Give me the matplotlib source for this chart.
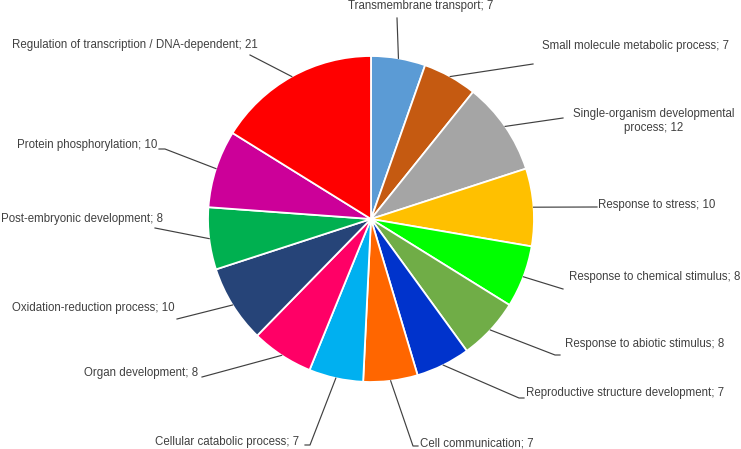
import numpy as np
import matplotlib.pyplot as plt

# -----------------------
# Data
# -----------------------
categories = [
    "Transmembrane transport",
    "Small molecule metabolic process",
    "Single-organism developmental\nprocess",
    "Response to stress",
    "Response to chemical stimulus",
    "Response to abiotic stimulus",
    "Reproductive structure development",
    "Cell communication",
    "Cellular catabolic process",
    "Organ development",
    "Oxidation-reduction process",
    "Post-embryonic development",
    "Protein phosphorylation",
    "Regulation of transcription / DNA-dependent",
]
counts = [7, 7, 12, 10, 8, 8, 7, 7, 7, 8, 10, 8, 10, 21]
colors = ["#5B9BD5", "#C55A11", "#A5A5A5", "#FFC000", "#00FF00", "#70AD47",
          "#0033CC", "#FF6600", "#00B0F0", "#FF0066", "#264478", "#00B050",
          "#CC0099", "#FF0000"]

# -----------------------
# Layout (pixels, y measured from top)
# text x, text y, ha, leader points after the wedge edge
# -----------------------
W, H = 741, 449
cx, cy, R = 371, 219, 163
label_layout = [
    (421, 6, "center", [(397, 18)]),
    (542, 46, "left", [(533, 64)]),
    (654, 121, "center", [(563, 118)]),
    (598, 205, "left", [(597, 207)]),
    (569, 277, "left", [(563, 289)]),
    (565, 344, "left", [(555, 355), (560, 355)]),
    (526, 393, "left", [(519, 398), (524, 398)]),
    (420, 443, "left", [(413, 446), (418, 446)]),
    (299, 442, "right", [(310, 445), (305, 445)]),
    (198, 373, "right", [(202, 377)]),
    (175, 308, "right", [(177, 319)]),
    (163, 219, "right", [(155, 228)]),
    (157, 145, "right", [(165, 149), (159, 149)]),
    (258, 45, "right", [(250, 55)]),
]

fig = plt.figure(figsize=(W / 100, H / 100), dpi=100)
ax = fig.add_axes([0, 0, 1, 1])

ax.pie(counts, colors=colors, startangle=90, counterclock=False,
       center=(cx, H - cy), radius=R, frame=True,
       wedgeprops=dict(edgecolor="white", linewidth=1.3))
ax.set_xlim(0, W)
ax.set_ylim(0, H)
ax.set_aspect("equal")
ax.axis("off")

total = sum(counts)
cum = 0
for name, n, (tx, ty, ha, pts) in zip(categories, counts, label_layout):
    mid = (cum + n / 2) / total * 2 * np.pi
    cum += n
    sx = cx + R * np.sin(mid)
    sy = cy - R * np.cos(mid)
    xs = [sx] + [p[0] for p in pts]
    ys = [H - sy] + [H - p[1] for p in pts]
    ax.plot(xs, ys, color="#404040", linewidth=0.85)
    ax.text(tx, H - ty, f"{name}; {n}", ha=ha, va="center",
            multialignment="center", fontsize=8.3,
            family="Liberation Sans", color="#404040", linespacing=1.3)

fig.savefig("out.png", dpi=100)
